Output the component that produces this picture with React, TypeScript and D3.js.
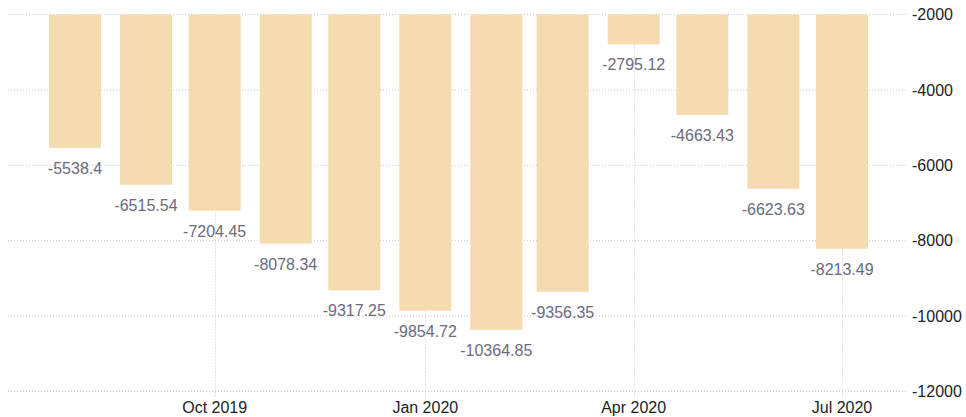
import React, { useEffect, useRef } from "react";
import * as d3 from "d3";

// monthly values, Aug 2019 .. Jul 2020
const months: string[] = [
  "2019-08", "2019-09", "2019-10", "2019-11", "2019-12", "2020-01",
  "2020-02", "2020-03", "2020-04", "2020-05", "2020-06", "2020-07",
];
const values: number[] = [
  -5538.4, -6515.54, -7204.45, -8078.34, -9317.25, -9854.72,
  -10364.85, -9356.35, -2795.12, -4663.43, -6623.63, -8213.49,
];
const yTicks: number[] = [-2000, -4000, -6000, -8000, -10000, -12000];
const xTickDates: string[] = ["2019-10", "2020-01", "2020-04", "2020-07"];

const W = 966;
const H = 417;
const FONT = "'Liberation Sans', Arial, sans-serif";

const parse = d3.timeParse("%Y-%m");

const App: React.FC = () => {
  const ref = useRef<SVGSVGElement | null>(null);

  useEffect(() => {
    const svg = d3.select(ref.current);
    svg.selectAll("*").remove();

    const dates = months.map((m) => parse(m) as Date);

    const x = d3
      .scaleTime()
      .domain([dates[0], dates[dates.length - 1]])
      .range([75, 842]);

    const y = d3.scaleLinear().domain([-2000, -12000]).range([14.5, 391.5]);

    const barW = 52;
    const gridLeft = 8;
    const gridRight = 906;

    // horizontal grid
    svg
      .append("g")
      .selectAll("line")
      .data(yTicks)
      .join("line")
      .attr("x1", gridLeft)
      .attr("x2", gridRight)
      .attr("y1", (d) => y(d))
      .attr("y2", (d) => y(d))
      .attr("stroke", "#c8c8c8")
      .attr("stroke-width", 1)
      .attr("stroke-dasharray", "1,2");

    // vertical grid
    svg
      .append("g")
      .selectAll("line")
      .data(xTickDates.map((d) => parse(d) as Date))
      .join("line")
      .attr("x1", (d) => Math.round(x(d)) + 0.5)
      .attr("x2", (d) => Math.round(x(d)) + 0.5)
      .attr("y1", y(-2000))
      .attr("y2", y(-12000) + 6)
      .attr("stroke", "#c8c8c8")
      .attr("stroke-width", 1)
      .attr("stroke-dasharray", "1,2");

    // bars
    svg
      .append("g")
      .selectAll("rect")
      .data(values)
      .join("rect")
      .attr("x", (_, i) => x(dates[i]) - barW / 2)
      .attr("y", y(-2000))
      .attr("width", barW)
      .attr("height", (d) => y(d) - y(-2000))
      .attr("fill", "#f4dcb0");

    // value labels
    svg
      .append("g")
      .selectAll("text")
      .data(values)
      .join("text")
      .attr("x", (_, i) => x(dates[i]))
      .attr("y", (d) => y(d) + 26)
      .attr("text-anchor", "middle")
      .attr("font-family", FONT)
      .attr("font-size", 16)
      .attr("fill", "#6d6a7c")
      .text((d) => String(d));

    // y axis labels (right)
    svg
      .append("g")
      .selectAll("text")
      .data(yTicks)
      .join("text")
      .attr("x", 912)
      .attr("y", (d) => y(d))
      .attr("dy", "0.36em")
      .attr("font-family", FONT)
      .attr("font-size", 16)
      .attr("fill", "#222")
      .text((d) => String(d));

    // x axis labels
    svg
      .append("g")
      .selectAll("text")
      .data(xTickDates.map((d) => parse(d) as Date))
      .join("text")
      .attr("x", (d) => x(d))
      .attr("y", 413)
      .attr("text-anchor", "middle")
      .attr("font-family", FONT)
      .attr("font-size", 16)
      .attr("fill", "#222")
      .text((d) => d3.timeFormat("%b %Y")(d));
  }, []);

  return (
    <svg
      ref={ref}
      width={W}
      height={H}
      style={{ position: "absolute", left: 0, top: 0, background: "#fff" }}
    />
  );
};

export default App;
